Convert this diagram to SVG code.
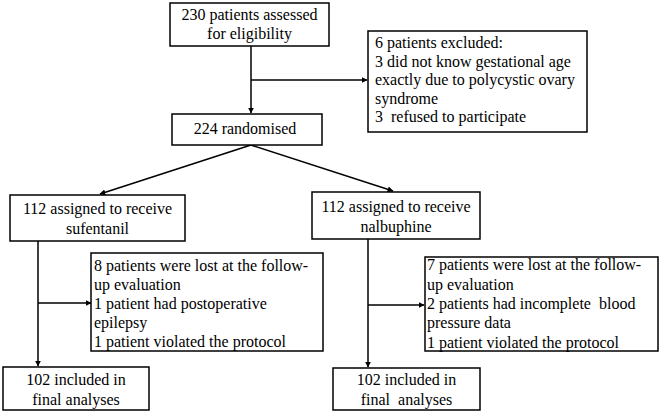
<svg xmlns="http://www.w3.org/2000/svg" width="660" height="414" viewBox="0 0 660 414">
<style>
.box{fill:#fff;stroke:#000;stroke-width:1.5}
text{font-family:'Liberation Serif',Tinos,'Times New Roman','Noto Serif','DejaVu Serif',serif;font-size:16px;fill:#000;white-space:pre}
.c{text-anchor:middle}
.ln{fill:none;stroke:#000;stroke-width:1.5}
</style>
<defs>
<marker id="ah" viewBox="0 0 10 10" refX="9" refY="5" markerWidth="4" markerHeight="4" orient="auto" markerUnits="strokeWidth">
<path d="M0,0 L10,5 L0,10 z" fill="#000"/>
</marker>
</defs>
<rect width="660" height="414" fill="#fff"/>
<g id="connectors">
<line class="ln" x1="251" y1="46" x2="251" y2="113" marker-end="url(#ah)"/>
<line class="ln" x1="251" y1="80" x2="367" y2="80" marker-end="url(#ah)"/>
<line class="ln" x1="251" y1="145" x2="100" y2="194" marker-end="url(#ah)"/>
<line class="ln" x1="251" y1="145" x2="393" y2="191" marker-end="url(#ah)"/>
<line class="ln" x1="38" y1="241" x2="38" y2="366" marker-end="url(#ah)"/>
<line class="ln" x1="38" y1="303" x2="91" y2="303" marker-end="url(#ah)"/>
<line class="ln" x1="368" y1="239" x2="368" y2="367" marker-end="url(#ah)"/>
<line class="ln" x1="368" y1="305" x2="424" y2="305" marker-end="url(#ah)"/>
</g>
<g id="assessed">
<rect class="box" x="170" y="3" width="159" height="43"/>
<text class="c" x="249.5" y="20" font-family="Liberation Serif, serif">230 patients assessed</text>
<text class="c" x="249.5" y="39">for eligibility</text>
</g>
<g id="excluded">
<rect class="box" x="368" y="31" width="219" height="101"/>
<text x="375" y="48">6 patients excluded:</text>
<text x="375" y="66.5">3 did not know gestational age</text>
<text x="375" y="85">exactly due to polycystic ovary</text>
<text x="375" y="103.5">syndrome</text>
<text x="375" y="122">3  refused to participate</text>
</g>
<g id="randomised">
<rect class="box" x="172" y="114" width="150" height="31"/>
<text class="c" x="245" y="134">224 randomised</text>
</g>
<g id="sufentanil">
<rect class="box" x="10" y="195" width="175" height="46"/>
<text class="c" x="97.5" y="214">112 assigned to receive</text>
<text class="c" x="97.5" y="234">sufentanil</text>
</g>
<g id="nalbuphine">
<rect class="box" x="312" y="192" width="168" height="47"/>
<text class="c" x="396" y="212">112 assigned to receive</text>
<text class="c" x="396" y="232">nalbuphine</text>
</g>
<g id="lost-left">
<rect class="box" x="91" y="253" width="232" height="98"/>
<text x="94" y="271">8 patients were lost at the follow-</text>
<text x="94" y="290">up evaluation</text>
<text x="94" y="308.5">1 patient had postoperative</text>
<text x="94" y="327.5">epilepsy</text>
<text x="94" y="346.5">1 patient violated the protocol</text>
</g>
<g id="lost-right">
<rect class="box" x="425" y="257" width="233" height="94"/>
<text x="427" y="270">7 patients were lost at the follow-</text>
<text x="427" y="289.5">up evaluation</text>
<text x="427" y="309">2 patients had incomplete  blood</text>
<text x="427" y="328">pressure data</text>
<text x="427" y="347.5">1 patient violated the protocol</text>
</g>
<g id="final-left">
<rect class="box" x="3" y="367" width="146" height="43"/>
<text class="c" x="76" y="385">102 included in</text>
<text class="c" x="76" y="405">final analyses</text>
</g>
<g id="final-right">
<rect class="box" x="333" y="368" width="147" height="42"/>
<text class="c" x="406.5" y="385">102 included in</text>
<text class="c" x="406.5" y="405">final  analyses</text>
</g>
</svg>
